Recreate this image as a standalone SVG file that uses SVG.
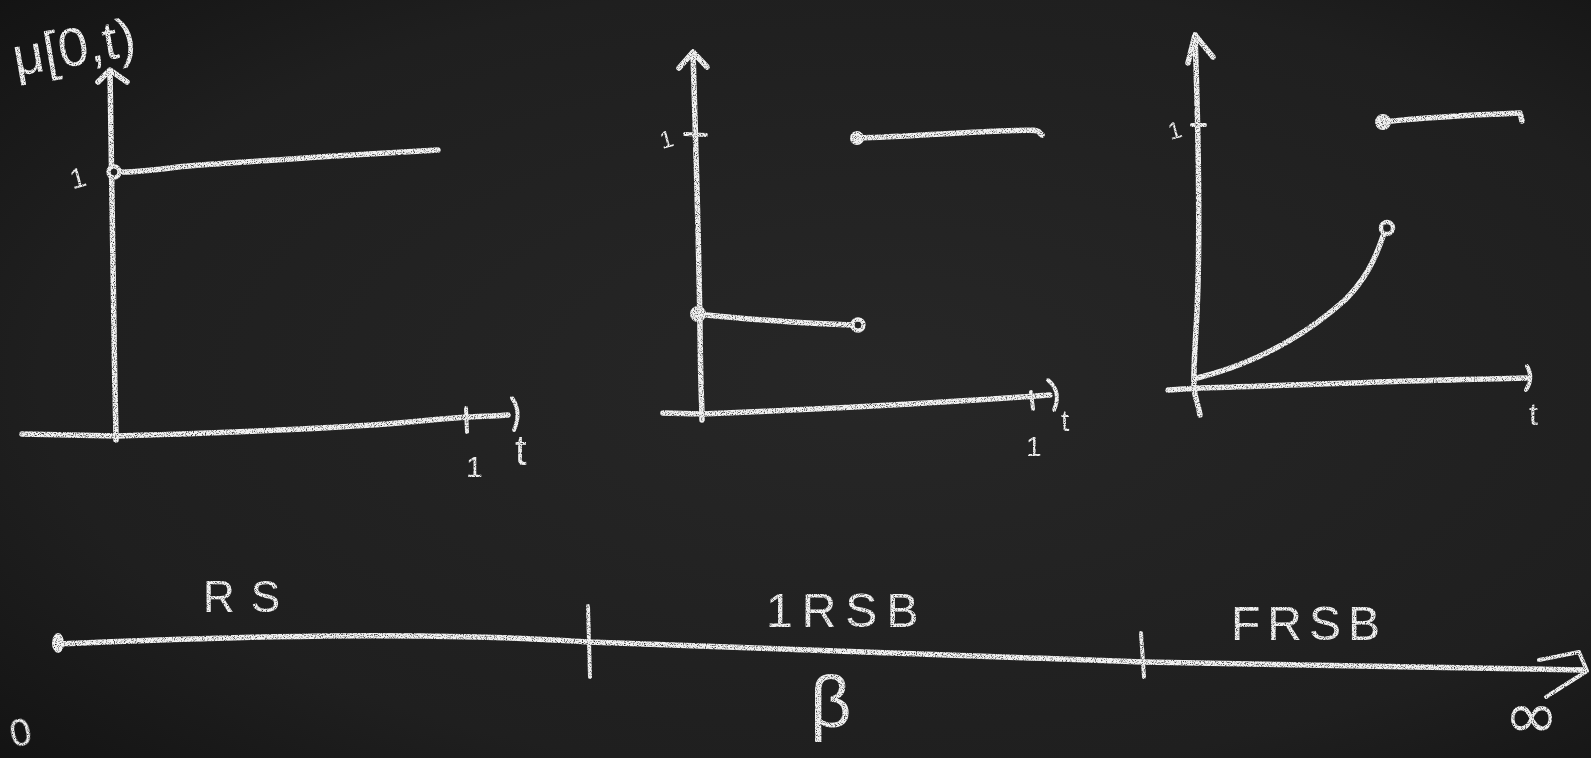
<svg xmlns="http://www.w3.org/2000/svg" width="1591" height="758" viewBox="0 0 1591 758">
  <defs>
    <radialGradient id="board" cx="55%" cy="50%" r="75%">
      <stop offset="0" stop-color="#272727"/>
      <stop offset="0.7" stop-color="#1f1f1f"/>
      <stop offset="1" stop-color="#131313"/>
    </radialGradient>
    <filter id="chalk" x="-2%" y="-2%" width="104%" height="104%">
      <feTurbulence type="fractalNoise" baseFrequency="0.9" numOctaves="2" seed="4" result="n"/>
      <feColorMatrix in="n" type="matrix" values="0 0 0 0 0  0 0 0 0 0  0 0 0 0 0  3 0 0 0 -0.5" result="m"/>
      <feComposite in="SourceGraphic" in2="m" operator="in"/>
    </filter>
    <style>
      .c { fill: none; stroke: #f2f2f2; stroke-width: 5.5; stroke-linecap: round; stroke-linejoin: round; }
      .thin { stroke-width: 4; }
      .dot { fill: #f2f2f2; stroke: #f2f2f2; stroke-width: 2; }
      .ring { fill: #222; stroke: #f2f2f2; stroke-width: 4.5; }
      .t { fill: #f2f2f2; font-family: "Liberation Sans", "DejaVu Sans", sans-serif; }
    </style>
  </defs>
  <rect width="1591" height="758" fill="url(#board)"/>

  <g filter="url(#chalk)">
    <!-- Panel 1: RS -->
    <g id="panel-rs">
      <text class="t" x="16" y="76" font-size="54" transform="rotate(-10 16 76)">μ[0,t)</text>
      <path class="c" d="M110,72 C111,150 113,250 114,330 S116,420 116,440"/>
      <path class="c" d="M98,82 L110,70 L127,82"/>
      <text class="t" x="70" y="188" font-size="28" transform="rotate(-15 76 178)">1</text>
      <path class="c" d="M119,172 C150,172 160,168 200,165 S380,153 438,150"/>
      <circle class="ring" cx="114" cy="172" r="5.5"/>
      <path class="c" d="M22,434 L117,436 C250,432 350,428 420,421 S490,417 508,415"/>
      <path class="c thin" d="M466,408 L467,432"/>
      <path class="c thin" d="M512,398 Q522,412 514,430"/>
      <text class="t" x="466" y="477" font-size="30">1</text>
      <text class="t" x="515" y="465" font-size="42">t</text>
    </g>

    <!-- Panel 2: 1RSB -->
    <g id="panel-1rsb">
      <path class="c" d="M693,53 C696,150 699,250 700,330 S702,400 702,420"/>
      <path class="c" d="M679,68 L693,52 L707,67"/>
      <path class="c thin" d="M685,134 L706,135"/>
      <text class="t" x="660" y="148" font-size="24" transform="rotate(-15 665 140)">1</text>
      <path class="c" d="M857,138 C900,137 950,133 1000,131 S1035,131 1042,135"/>
      <circle class="dot" cx="857" cy="138" r="6"/>
      <path class="c" d="M698,314 C730,318 800,323 852,325"/>
      <circle class="dot" cx="698" cy="314" r="7"/>
      <circle class="ring" cx="858" cy="325" r="5.5"/>
      <path class="c" d="M663,413 L702,414 C800,410 950,402 1050,395"/>
      <path class="c thin" d="M1031,392 L1033,409"/>
      <path class="c thin" d="M1048,380 Q1062,392 1054,410"/>
      <text class="t" x="1061" y="431" font-size="30">t</text>
      <text class="t" x="1026" y="456" font-size="28">1</text>
    </g>

    <!-- Panel 3: FRSB -->
    <g id="panel-frsb">
      <path class="c" d="M1195,35 C1199,150 1201,250 1196,330 S1196,390 1200,415"/>
      <path class="c" d="M1188,63 L1195,35 L1213,57"/>
      <path class="c thin" d="M1192,125 L1205,125"/>
      <text class="t" x="1168" y="139" font-size="24" transform="rotate(-15 1173 130)">1</text>
      <path class="c" d="M1383,122 C1420,118 1470,115 1520,113 L1522,121"/>
      <circle class="dot" cx="1383" cy="122" r="7"/>
      <path class="c" d="M1197,378 C1250,365 1300,340 1345,300 C1365,280 1375,260 1383,236"/>
      <circle class="ring" cx="1387" cy="228" r="6"/>
      <path class="c" d="M1168,390 L1200,388 C1300,385 1420,380 1526,378"/>
      <path class="c thin" d="M1527,366 Q1534,378 1526,390"/>
      <text class="t" x="1529" y="425" font-size="32">t</text>
    </g>

    <!-- Beta axis with phases -->
    <g id="beta-axis">
      <path class="c" d="M58,644 C150,640 300,634 420,636 C500,637 560,640 589,642 C800,650 1000,658 1143,662 C1300,665 1450,668 1583,670"/>
      <ellipse class="dot" cx="58" cy="643" rx="5" ry="9"/>
      <path class="c thin" d="M1539,660 L1579,652 L1587,671 L1546,697"/>
      <text class="t" x="10" y="746" font-size="38" transform="rotate(-12 20 733)">0</text>
      <text class="t" x="1504" y="738" font-size="66" style="font-family:'DejaVu Sans', sans-serif">∞</text>
      <text class="t" x="810" y="727" font-size="72">β</text>
    </g>

    <g id="ticks">
      <path class="c thin" d="M588,606 L590,677"/>
      <path class="c thin" d="M1141,633 L1144,677"/>
    </g>

    <g id="labels">
      <text class="t" x="203" y="612" font-size="44" letter-spacing="16">RS</text>
      <text class="t" x="766" y="627" font-size="48" letter-spacing="9">1RSB</text>
      <text class="t" x="1231" y="640" font-size="48" letter-spacing="7">FRSB</text>
    </g>
  </g>
</svg>
